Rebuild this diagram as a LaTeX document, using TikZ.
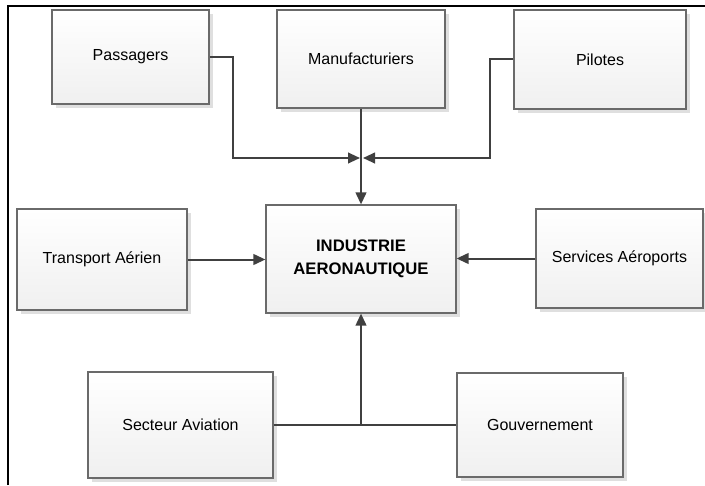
\documentclass[tikz,border=0pt]{standalone}
\usepackage{fontspec}
\setmainfont{Liberation Sans}
\usepackage{xcolor}
\usepackage{tikz}
\usetikzlibrary{arrows.meta,shadows}

\definecolor{linegray}{HTML}{404040}
\definecolor{boxgray}{HTML}{6A6A6A}

\begin{document}
\begin{tikzpicture}[x=0.75pt, y=-0.75pt,
	box/.style = {draw=boxgray, line width=0.9pt, top color=white, bottom color=gray!12,
		drop shadow={shadow xshift=3pt, shadow yshift=-3pt, fill=gray!25, opacity=1},
		font=\fontsize{12}{14}\selectfont, inner sep=2pt, align=center},
	conn/.style = {draw=linegray, line width=1.5pt},
	arr/.style = {conn, -{Triangle[length=9pt, width=8pt]}}]
	\useasboundingbox (0,0) rectangle (705,485);
	\draw [line width=1.6pt] (8,485) -- (8,6) -- (706,6);

	\node [box, minimum width=117.75pt, minimum height=70.5pt] (pass) at (130.5,57) {Passagers};
	\node [box, minimum width=126pt, minimum height=73.5pt] (manu) at (361,59) {Manufacturiers};
	\node [box, minimum width=129pt, minimum height=74.25pt] (pil) at (600,59.5) {Pilotes};

	\node [box, minimum width=127.5pt, minimum height=75.75pt] (trans) at (102,259.5) {Transport Aérien};
	\node [box, minimum width=142.5pt, minimum height=81pt, font=\bfseries\fontsize{12.5}{17}\selectfont] (indus) at (361,259) {INDUSTRIE\\AERONAUTIQUE};
	\node [box, minimum width=125.25pt, minimum height=74.25pt] (serv) at (619.5,258.5) {Services Aéroports};

	\node [box, minimum width=138.75pt, minimum height=79.5pt] (sect) at (180.5,425) {Secteur Aviation};
	\node [box, minimum width=124.5pt, minimum height=78pt] (gouv) at (540,425) {Gouvernement};

	% top branches
	\coordinate (pbend) at (233,158);
	\coordinate (jl) at (360,158);
	\coordinate (qbend) at (490,158);
	\coordinate (jr) at (363,158);
	\draw [arr] (pass.east) -| (pbend) -- (jl);
	\draw [arr] (pil.west) -| (qbend) -- (jr);
	\draw [arr] (manu.south) -- (indus.north);

	% sides
	\draw [arr] (trans.east) -- (trans.east -| indus.west);
	\draw [arr] (serv.west) -- (serv.west -| indus.east);

	% bottom
	\coordinate (jb) at (361,425);
	\draw [conn] (sect.east) -- (gouv.west);
	\draw [arr] (jb) -- (indus.south);
\end{tikzpicture}
\end{document}
